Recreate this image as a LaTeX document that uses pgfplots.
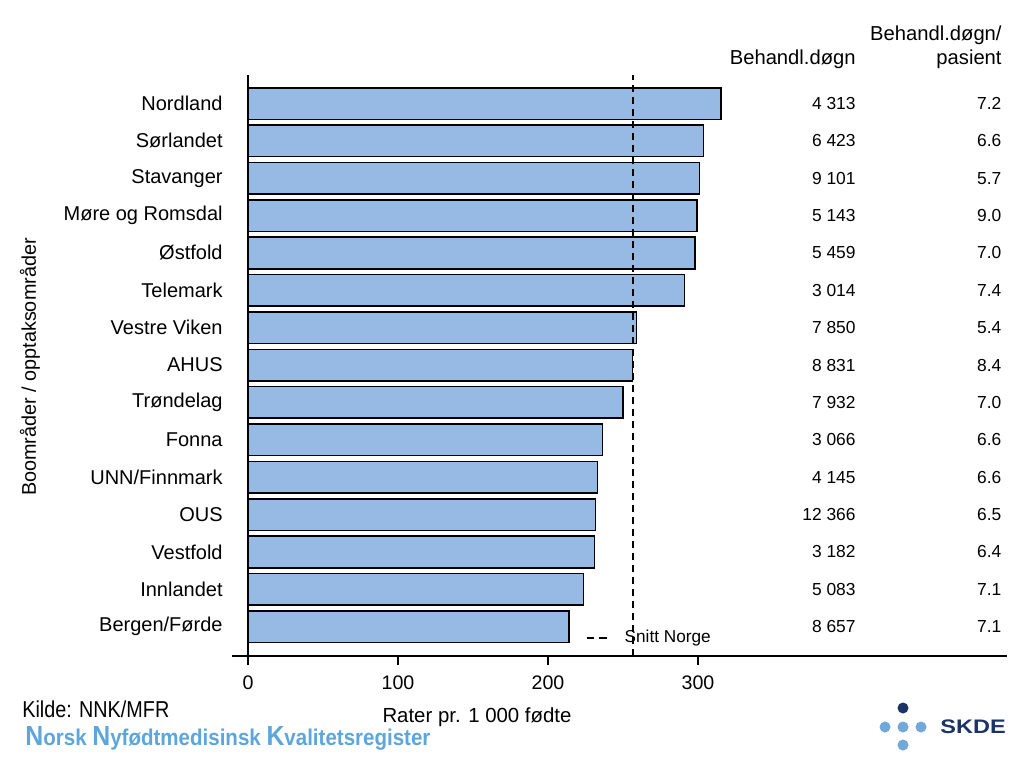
\documentclass[border=0pt]{standalone}
\usepackage{fontspec}
\setmainfont{Liberation Sans}
\newfontfamily\narrowfont[FakeStretch=0.86]{Liberation Sans}
\newfontfamily\narrowbold[FakeStretch=0.9]{Liberation Sans Bold}
\newfontfamily\wideBold[FakeStretch=1.2]{Liberation Sans Bold}
\usepackage{pgfplots}
\usepackage{pgfplotstable}
\pgfplotsset{compat=1.18}

\definecolor{barblue}{RGB}{150,186,228}
\definecolor{nnkblue}{RGB}{92,166,220}
\definecolor{skdenavy}{RGB}{26,52,104}
\definecolor{skdelight}{RGB}{112,168,220}

% rates per 1000 births, treatment days, days per patient (bottom row first)
\pgfplotstableread[col sep=comma]{
name,rate,dogn,perpas
Bergen/Førde,213.8,8 657,7.1
Innlandet,223.6,5 083,7.1
Vestfold,230.9,3 182,6.4
OUS,231.6,12 366,6.5
UNN/Finnmark,233.1,4 145,6.6
Fonna,236.2,3 066,6.6
Trøndelag,249.8,7 932,7.0
AHUS,256.2,8 831,8.4
Vestre Viken,259.1,7 850,5.4
Telemark,290.9,3 014,7.4
Østfold,297.8,5 459,7.0
Møre og Romsdal,299.3,5 143,9.0
Stavanger,300.9,9 101,5.7
Sørlandet,303.6,6 423,6.6
Nordland,315.3,4 313,7.2
}\data

\newcommand{\capN}[1]{{\fontsize{13.8}{13.8}\selectfont #1}}

\begin{document}
\begin{tikzpicture}
\begin{axis}[
    at={(116pt,56pt)}, anchor=south west,
    scale only axis,
    width=387.5pt, height=290.5pt,
    xmin=-10.67, xmax=506,
    ymin=-0.784, ymax=14.763,
    axis x line=bottom,
    axis y line=left,
    x axis line style={-, line width=0.7pt},
    y axis line style={draw=none},
    xtick={0,100,200,300},
    tick align=outside,
    major tick length=4.5pt,
    x tick style={black, line width=0.7pt},
    y tick style={draw=none},
    ytick={0,...,14},
    yticklabels from table={\data}{name},
    /pgf/number format/assume math mode=true,
    x tick label style={font=\fontsize{9.8}{11}\selectfont, inner sep=0pt, yshift=-5pt},
    y tick label style={font=\fontsize{10}{12}\selectfont, anchor=east, inner sep=0pt, xshift=0pt},
    legend style={at={(0.5395,0.031)}, anchor=center, draw=none, fill=none,
        font=\fontsize{8.6}{10}\selectfont, inner sep=1pt},
    legend image code/.code={\draw[#1, dash pattern=on 3.8pt off 2.4pt] (0pt,0pt) -- (10pt,0pt);},
    legend cell align=left,
    clip=false,
]
\addplot[xbar, bar width=0.845, fill=barblue, draw=black, line width=0.8pt, forget plot]
    table[x=rate, y expr=\coordindex] {\data};
\draw[black, line width=0.7pt] (axis cs:0,-0.784) -- (axis cs:0,14.763);
\addplot[black, line width=1.05pt, dash pattern=on 3.5pt off 2.5pt]
    coordinates {(256.4,-0.784) (256.4,14.763)};
\addlegendentry{\hspace{6.5pt}Snitt Norge}
\addplot[forget plot, draw=none, mark=none, nodes near coords, point meta=explicit symbolic,
    every node near coord/.append style={anchor=east, inner sep=0pt, font=\fontsize{8.7}{10}\selectfont}]
    table[x expr=405.33, y expr=\coordindex, meta=dogn] {\data};
\addplot[forget plot, draw=none, mark=none, nodes near coords, point meta=explicit symbolic,
    every node near coord/.append style={anchor=east, inner sep=0pt, font=\fontsize{8.7}{10}\selectfont}]
    table[x expr=502.5, y expr=\coordindex, meta=perpas] {\data};
\end{axis}

\begin{scope}[x=0.5pt, y=-0.5pt, shift={(0pt,384pt)}]
\path (0,0) rectangle (1024,768);
\node[anchor=base east, inner sep=0pt, font=\fontsize{10.1}{11}\selectfont] at (856,64) {Behandl.døgn};
\node[anchor=base east, inner sep=0pt, font=\fontsize{10.1}{11}\selectfont] at (1002,40.5) {Behandl.døgn/};
\node[anchor=base east, inner sep=0pt, font=\fontsize{10.1}{11}\selectfont] at (1002,64) {pasient};
\node[rotate=90, inner sep=0pt, font=\fontsize{9.9}{11}\selectfont] at (30,367) {Boområder / opptaksområder};
\node[inner sep=0pt, font=\fontsize{10.2}{11}\selectfont] at (477,717) {Rater pr. 1 000 fødte};
\node[anchor=base west, inner sep=0pt, font=\narrowfont\fontsize{11.5}{12}\selectfont] at (22,717) {Kilde: NNK/MFR};
\node[anchor=base west, inner sep=0pt, text=nnkblue, font=\narrowbold\fontsize{11.4}{12}\selectfont]
    at (25,745) {\capN{N}orsk \capN{N}yfødtmedisinsk \capN{K}valitetsregister};
\fill[skdenavy] (903,708) circle (5.5);
\fill[skdelight] (885,727) circle (5.5);
\fill[skdelight] (903,727) circle (5.5);
\fill[skdelight] (921,727) circle (5.5);
\fill[skdelight] (903,745) circle (5.5);
\node[anchor=west, inner sep=0pt, text=skdenavy, font=\wideBold\fontsize{9.8}{11}\selectfont] at (940,727) {SKDE};
\end{scope}
\end{tikzpicture}
\end{document}
